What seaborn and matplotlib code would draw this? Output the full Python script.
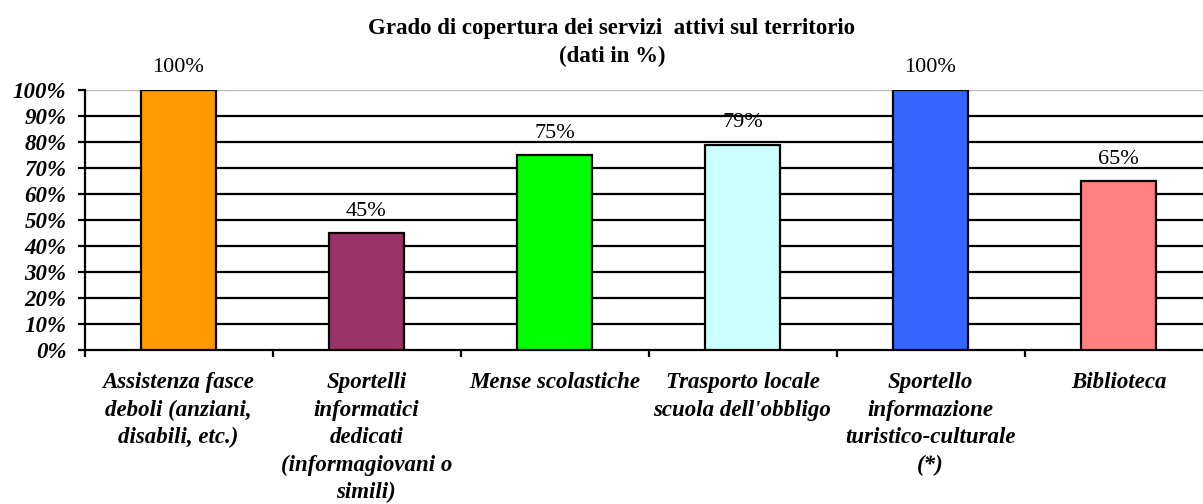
import matplotlib
matplotlib.use("Agg")
import matplotlib.pyplot as plt
import seaborn as sns
import pandas as pd
import numpy as np

# data
categories = [
    "Assistenza fasce\ndeboli (anziani,\ndisabili, etc.)",
    "Sportelli\ninformatici\ndedicati\n(informagiovani o\nsimili)",
    "Mense scolastiche",
    "Trasporto locale\nscuola dell'obbligo",
    "Sportello\ninformazione\nturistico-culturale\n(*)",
    "Biblioteca",
]
values = [100, 45, 75, 79, 100, 65]
bar_colors = ["#FF9900", "#993366", "#00FF00", "#CCFFFF", "#3366FF", "#FF8080"]
y_ticks = [0, 10, 20, 30, 40, 50, 60, 70, 80, 90, 100]

df = pd.DataFrame({"servizio": categories, "valore": values})

sns.set_style("white")
plt.rcParams["font.family"] = ["Liberation Serif", "DejaVu Serif"]
plt.rcParams["text.color"] = "black"
plt.rcParams["xtick.color"] = "black"
plt.rcParams["ytick.color"] = "black"

fig = plt.figure(figsize=(12.03, 5.04), dpi=100)
ax = fig.add_axes([84.5 / 1203, 1 - 350 / 504, 1128 / 1203, 260 / 504])

# gridlines
for t in y_ticks[1:-1]:
    ax.axhline(t, color="black", lw=1.6, zorder=1)
ax.axhline(100, color="#BBBBBB", lw=1.0, zorder=1)

sns.barplot(data=df, x="servizio", y="valore", hue="servizio", palette=bar_colors,
            saturation=1, width=0.4, edgecolor="black", linewidth=1.6, legend=False,
            ax=ax, zorder=3)

for i, v in enumerate(values):
    ax.annotate(f"{v}%", (i, v), xytext=(0, 9), textcoords="offset points",
                ha="center", va="bottom", fontsize=16, color="black", zorder=0)

ax.set_ylim(0, 100)
ax.set_xlim(-0.5, len(categories) - 0.5)
ax.set_yticks(y_ticks)
ax.set_yticklabels([f"{t}%" for t in y_ticks], fontsize=16.5, fontweight="bold", style="italic")
ax.tick_params(axis="y", direction="out", length=5, width=1.6, pad=8, left=True)

ax.set_xticks(range(len(categories)))
ax.set_xticklabels(categories, fontsize=16.5, fontweight="bold", style="italic", linespacing=1.4)
ax.set_xticks(np.arange(-0.5, len(categories), 1), minor=True)
ax.tick_params(axis="x", which="major", length=0, pad=16)
ax.tick_params(axis="x", which="minor", direction="out", length=5, width=1.6, bottom=True)

ax.set_xlabel("")
ax.set_ylabel("")
for s in ["top", "right"]:
    ax.spines[s].set_visible(False)
for s in ["left", "bottom"]:
    ax.spines[s].set_linewidth(1.6)
    ax.spines[s].set_color("black")

fig.text(612 / 1203, 1 - 42.5 / 504, "Grado di copertura dei servizi  attivi sul territorio\n(dati in %)",
         ha="center", va="center", fontsize=16.5, fontweight="bold", linespacing=1.45,
         color="black")

fig.savefig("out.png", dpi=100)
